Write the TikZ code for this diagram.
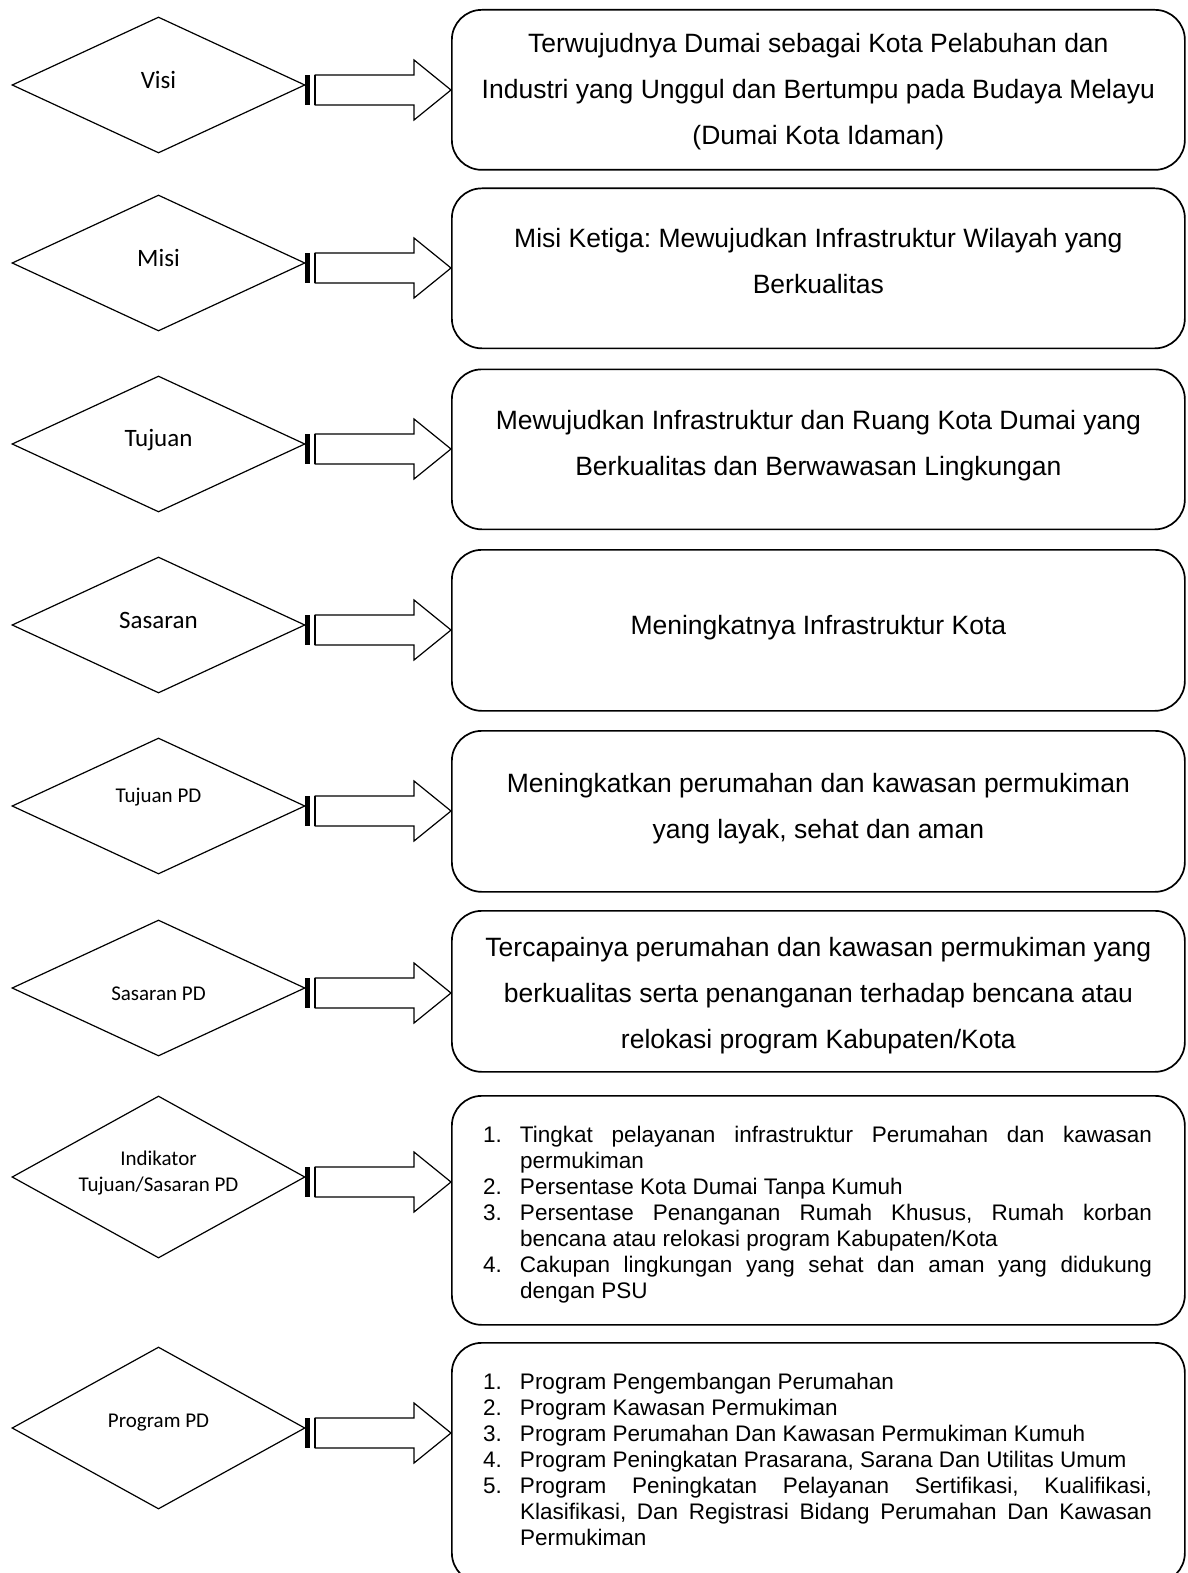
\documentclass[tikz,border=0pt]{standalone}
\usepackage{fontspec}
\setmainfont{Liberation Sans}
\newfontfamily\calfont{Carlito}
\usetikzlibrary{shapes.geometric,calc}
\newcommand\litem[2]{\par\noindent\hangindent=37pt\hangafter=1\makebox[37pt][l]{#1}#2\par}
\frenchspacing
\begin{document}
\begin{tikzpicture}[x=1pt,y=-1pt,
 dia/.style={diamond, draw, line width=1.2pt, shape aspect=2.15, minimum width=293pt, minimum height=136pt, inner sep=0pt},
 dlabel/.style={align=center, inner sep=0pt, font=\calfont\fontsize{25}{26}\selectfont},
 dlabelsmall/.style={dlabel, font=\calfont\fontsize{21}{26}\selectfont},
 rbox/.style={draw, line width=1.7pt, rounded corners=30pt, minimum width=733pt, anchor=north west, inner sep=0pt},
 btext/.style={align=center, font=\fontsize{26.5}{46}\selectfont, inner sep=0pt},
 ltext/.style={text width=669pt, align=justify, font=\fontsize{22.5}{26}\selectfont, inner sep=0pt},
 arrowbody/.style={draw, line width=1.2pt, fill=white, line join=miter},
]
\useasboundingbox[fill=white] (0,0) rectangle (1187,1573);
% diamonds
\node[dia] (d1) at (158.5,85) {};
\node[dia] (d2) at (158.5,263) {};
\node[dia] (d3) at (158.5,444) {};
\node[dia] (d4) at (158.5,625) {};
\node[dia] (d5) at (158.5,806) {};
\node[dia] (d6) at (158.5,988) {};
\node[dia, minimum height=162pt] (d7) at (158.5,1177) {};
\node[dia, minimum height=162pt] (d8) at (158.5,1428) {};
% diamond labels
\node[dlabel] (l1) at ($(d1.center)+(0,-5)$) {Visi};
\node[dlabel] (l2) at ($(d2.center)+(0,-5)$) {Misi};
\node[dlabel] (l3) at ($(d3.center)+(0,-4)$) {Tujuan};
\node[dlabel] (l4) at ($(d4.center)+(0,-5)$) {Sasaran};
\node[dlabelsmall] (l5) at ($(d5.center)+(0,-9)$) {Tujuan PD};
\node[dlabelsmall] (l6) at ($(d6.center)+(0,6)$) {Sasaran PD};
\node[dlabelsmall] (l7) at ($(d7.center)+(0,-4)$) {Indikator\\Tujuan/Sasaran PD};
\node[dlabelsmall] (l8) at ($(d8.center)+(0,-5)$) {Program PD};
% boxes
\node[rbox, minimum height=160pt] (b1) at (451,9) {};
\node[rbox, minimum height=160pt] (b2) at (451,187.5) {};
\node[rbox, minimum height=160pt] (b3) at (451,368.5) {};
\node[rbox, minimum height=161pt] (b4) at (451,549) {};
\node[rbox, minimum height=161pt] (b5) at (451,730) {};
\node[rbox, minimum height=161pt] (b6) at (451,910) {};
\node[rbox, minimum height=229pt] (b7) at (451,1095) {};
\node[rbox, minimum height=240pt] (b8) at (451,1342) {};
% box texts
\node[btext] (t1) at ($(b1.center)+(0,2)$) {Terwujudnya Dumai sebagai Kota Pelabuhan dan\\Industri yang Unggul dan Bertumpu pada Budaya Melayu\\(Dumai Kota Idaman)};
\node[btext] (t2) at ($(b2.center)+(0,-7)$) {Misi Ketiga: Mewujudkan Infrastruktur Wilayah yang\\Berkualitas};
\node[btext] (t3) at ($(b3.center)+(0,-3.5)$) {Mewujudkan Infrastruktur dan Ruang Kota Dumai yang\\Berkualitas dan Berwawasan Lingkungan};
\node[btext] (t4) at ($(b4.center)+(0,-3)$) {Meningkatnya Infrastruktur Kota};
\node[btext] (t5) at ($(b5.center)+(0,-3)$) {Meningkatkan perumahan dan kawasan permukiman\\yang layak, sehat dan aman};
\node[btext] (t6) at ($(b6.center)+(0,4)$) {Tercapainya perumahan dan kawasan permukiman yang\\berkualitas serta penanganan terhadap bencana atau\\relokasi program Kabupaten/Kota};
\node[ltext] (t7) at (817.5,1210) {%
\litem{1.}{Tingkat pelayanan infrastruktur Perumahan dan kawasan\linebreak permukiman}%
\litem{2.}{Persentase Kota Dumai Tanpa Kumuh}%
\litem{3.}{Persentase Penanganan Rumah Khusus, Rumah korban\linebreak bencana atau relokasi program Kabupaten/Kota}%
\litem{4.}{Cakupan lingkungan yang sehat dan aman yang didukung\linebreak dengan PSU}};
\node[ltext] (t8) at (817.5,1455) {%
\litem{1.}{Program Pengembangan Perumahan}%
\litem{2.}{Program Kawasan Permukiman}%
\litem{3.}{Program Perumahan Dan Kawasan Permukiman Kumuh}%
\litem{4.}{Program Peningkatan Prasarana, Sarana Dan Utilitas Umum}%
\litem{5.}{Program Peningkatan Pelayanan Sertifikasi, Kualifikasi,\linebreak Klasifikasi, Dan Registrasi Bidang Perumahan Dan Kawasan\linebreak Permukiman}};
% striped arrows
\foreach \i in {1,...,8} {
  \coordinate (s\i) at ($(d\i.east)+(0,5)$);
  \coordinate (e\i) at (s\i -| b\i.west);
  \fill ($(s\i)+(-0.5,-15)$) rectangle ($(s\i)+(4.5,15)$);
  \draw[arrowbody] ($(s\i)+(9.5,-15)$) -- ($(e\i)+(-37,-15)$) -- ($(e\i)+(-37,-30)$) -- (e\i) -- ($(e\i)+(-37,30)$) -- ($(e\i)+(-37,15)$) -- ($(s\i)+(9.5,15)$) -- cycle;
  \draw[line width=2.4pt] ($(s\i)+(9.5,-15)$) -- ($(s\i)+(9.5,15)$);
}
\end{tikzpicture}
\end{document}
